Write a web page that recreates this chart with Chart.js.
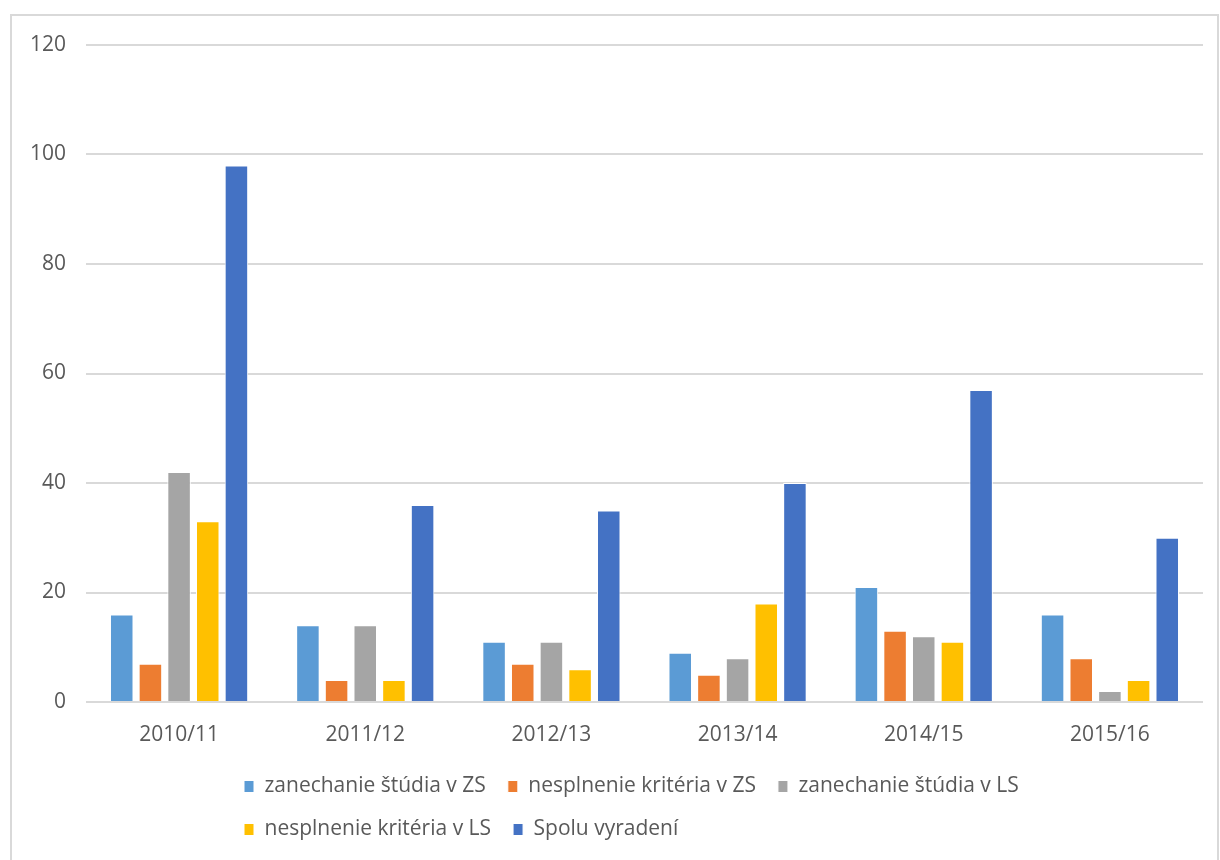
<!DOCTYPE html>
<html>
<head>
<meta charset="utf-8">
<script src="https://cdn.jsdelivr.net/npm/chart.js@4"></script>
<style>
  html, body { margin: 0; padding: 0; background: #fff; }
  #frame { position: absolute; left: 10px; top: 14px; width: 1205px; height: 860px;
           border: 2px solid #d9d9d9; border-bottom: none; }
  #wrap { position: absolute; left: 0; top: 0; width: 1220px; height: 860px; }
</style>
</head>
<body>
<div id="frame"></div>
<div id="wrap"><canvas id="chart" width="1220" height="860"></canvas></div>
<script>
// skolske roky
var years = ["2010/11", "2011/12", "2012/13", "2013/14", "2014/15", "2015/16"];

var zanechanieZS = [16, 14, 11, 9, 21, 16];
var nesplnenieZS = [7, 4, 7, 5, 13, 8];
var zanechanieLS = [42, 14, 11, 8, 12, 2];
var nesplnenieLS = [33, 4, 6, 18, 11, 4];
var spoluVyradeni = [98, 36, 35, 40, 57, 30];

var seriesNames = ["zanechanie štúdia v ZS", "nesplnenie kritéria v ZS", "zanechanie štúdia v LS",
                   "nesplnenie kritéria v LS", "Spolu vyradení"];
var seriesColors = ["#5b9bd5", "#ed7d31", "#a5a5a5", "#ffc000", "#4472c4"];

var yMax = 120;
var yStep = 20;

var fontFam = "'Open Sans', sans-serif";
var txtColor = "#595959";

function makeSet(i, vals) {
  return {
    label: seriesNames[i],
    data: vals,
    backgroundColor: seriesColors[i],
    borderColor: "#ffffff",
    borderWidth: 1,
    categoryPercentage: 0.77,
    barPercentage: 0.82
  };
}

// excel style legend: 3 items in first row, rows aligned left
var legendRows = {
  id: 'legendRows',
  beforeLayout: function (chart) {
    var lg = chart.legend;
    if (lg && !lg._rowsPatched) {
      var fit = lg.fit;
      lg.fit = function () {
        this.maxWidth = Math.min(this.maxWidth, 1000);
        fit.call(this);
      };
      lg._rowsPatched = true;
    }
  },
  afterLayout: function (chart) {
    var lg = chart.legend;
    lg.left = 222;
    lg.right = 1212;
    lg.width = 990;
  }
};

new Chart(document.getElementById("chart"), {
  type: 'bar',
  data: {
    labels: years,
    datasets: [
      makeSet(0, zanechanieZS),
      makeSet(1, nesplnenieZS),
      makeSet(2, zanechanieLS),
      makeSet(3, nesplnenieLS),
      makeSet(4, spoluVyradeni)
    ]
  },
  plugins: [legendRows],
  options: {
    responsive: false,
    animation: false,
    devicePixelRatio: 1,
    layout: { padding: { top: 45, right: 17, left: 0, bottom: 10 } },
    plugins: {
      tooltip: { enabled: false },
      legend: {
        position: 'bottom',
        align: 'start',
        fullSize: false,
        labels: {
          boxWidth: 10,
          boxHeight: 12,
          padding: 22,
          color: txtColor,
          font: { family: fontFam, size: 21 }
        }
      }
    },
    scales: {
      x: {
        grid: { display: false },
        border: { display: false },
        ticks: { color: txtColor, font: { family: fontFam, size: 21 }, padding: 12, maxRotation: 0 },
        afterFit: function (s) { s.height = 52; }
      },
      y: {
        min: 0,
        max: yMax,
        ticks: { stepSize: yStep, color: txtColor, font: { family: fontFam, size: 21 }, padding: 20 },
        grid: { color: "#d9d9d9", lineWidth: 2, drawTicks: false },
        border: { display: false },
        afterFit: function (s) { s.width = 86; }
      }
    }
  }
});
</script>
</body>
</html>
